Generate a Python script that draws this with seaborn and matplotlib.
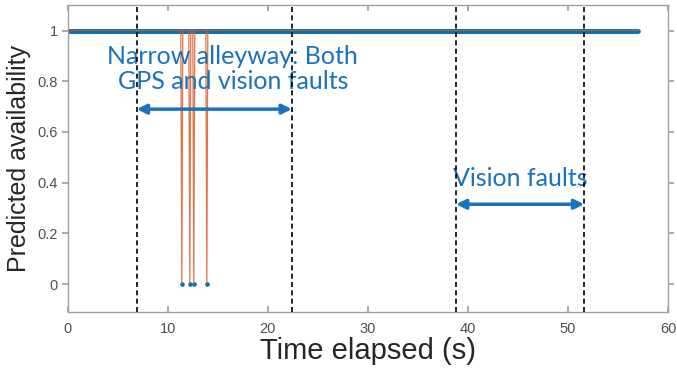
import numpy as np
import pandas as pd
import matplotlib
matplotlib.use("Agg")
import matplotlib.pyplot as plt
import seaborn as sns

# ================================================================
# Data
t_start, t_end, t_step = 0.0, 57.0, 0.1        # sampling of the availability trace
drop_times = [11.4, 12.2, 12.6, 13.9]          # samples where availability drops to 0
fault_bounds = [6.9, 22.4, 38.8, 51.6]         # dashed vertical markers
alley_span = (6.9, 22.4)
vision_span = (38.8, 51.6)
xticks = [0, 10, 20, 30, 40, 50, 60]
yticks = [0, 0.2, 0.4, 0.6, 0.8, 1]
ytick_labels = ["0", "0.2", "0.4", "0.6", "0.8", "1"]
# ================================================================

times = np.round(np.arange(t_start, t_end + t_step / 2, t_step), 2)
avail = np.ones_like(times)
for d in drop_times:
    avail[np.argmin(np.abs(times - d))] = 0.0
df = pd.DataFrame({"time": times, "avail": avail})

BLUE = "#0072BD"
ORANGE = "#D95319"
ANN = "#1B72BE"

sns.set_theme(style="white")
plt.rcParams["font.family"] = ["Liberation Sans", "DejaVu Sans"]

fig = plt.figure(figsize=(6.77, 3.68), dpi=100)
ax = fig.add_axes([0.100, 0.152, 0.887, 0.834])

sns.scatterplot(ax=ax, data=df, x="time", y="avail", color=BLUE, s=11,
                linewidth=0, zorder=2)
sns.lineplot(ax=ax, data=df, x="time", y="avail", color=ORANGE, lw=0.9,
             alpha=0.8, zorder=3, estimator=None)
for ln in ax.get_lines():
    ln.set_snap(False)

for xb in fault_bounds:
    ax.axvline(xb, color="black", ls=(0, (3, 2)), lw=1.2, zorder=4)

# Annotations
ann_font = ["Lato", "DejaVu Sans"]
ax.text(16.5, 0.85, "Narrow alleyway: Both\nGPS and vision faults", color=ANN,
        fontsize=18, ha="center", va="center", family=ann_font,
        linespacing=1.1)
ax.annotate("", xy=(alley_span[0], 0.69), xytext=(alley_span[1], 0.69),
            arrowprops=dict(arrowstyle="<|-|>", color=ANN, lw=2.5,
                            mutation_scale=14, shrinkA=0, shrinkB=0))
ax.text(45.2, 0.415, "Vision faults", color=ANN, fontsize=18, ha="center",
        va="center", family=ann_font)
ax.annotate("", xy=(vision_span[0], 0.315), xytext=(vision_span[1], 0.315),
            arrowprops=dict(arrowstyle="<|-|>", color=ANN, lw=2.5,
                            mutation_scale=14, shrinkA=0, shrinkB=0))

ax.set_xlim(0, 60)
ax.set_ylim(-0.11, 1.1)
ax.set_xticks(xticks)
ax.set_yticks(yticks)
ax.set_yticklabels(ytick_labels)
ax.set_xlabel("Time elapsed (s)", fontsize=21, color="#262626", labelpad=1)
ax.set_ylabel("Predicted availability", fontsize=18, color="#262626", labelpad=5)

for sp in ax.spines.values():
    sp.set_color("#A0A0A0")
    sp.set_linewidth(1.0)
ax.tick_params(axis="x", direction="in", length=4, color="#A0A0A0",
               labelsize=10.5, labelcolor="#505050", top=True, bottom=True, pad=7)
ax.tick_params(axis="y", which="both", direction="out", length=4, color="#A0A0A0",
               labelsize=10.5, labelcolor="#505050", left=True, pad=3)
ax.tick_params(axis="y", right=True)

fig.savefig("out.png", dpi=100)
